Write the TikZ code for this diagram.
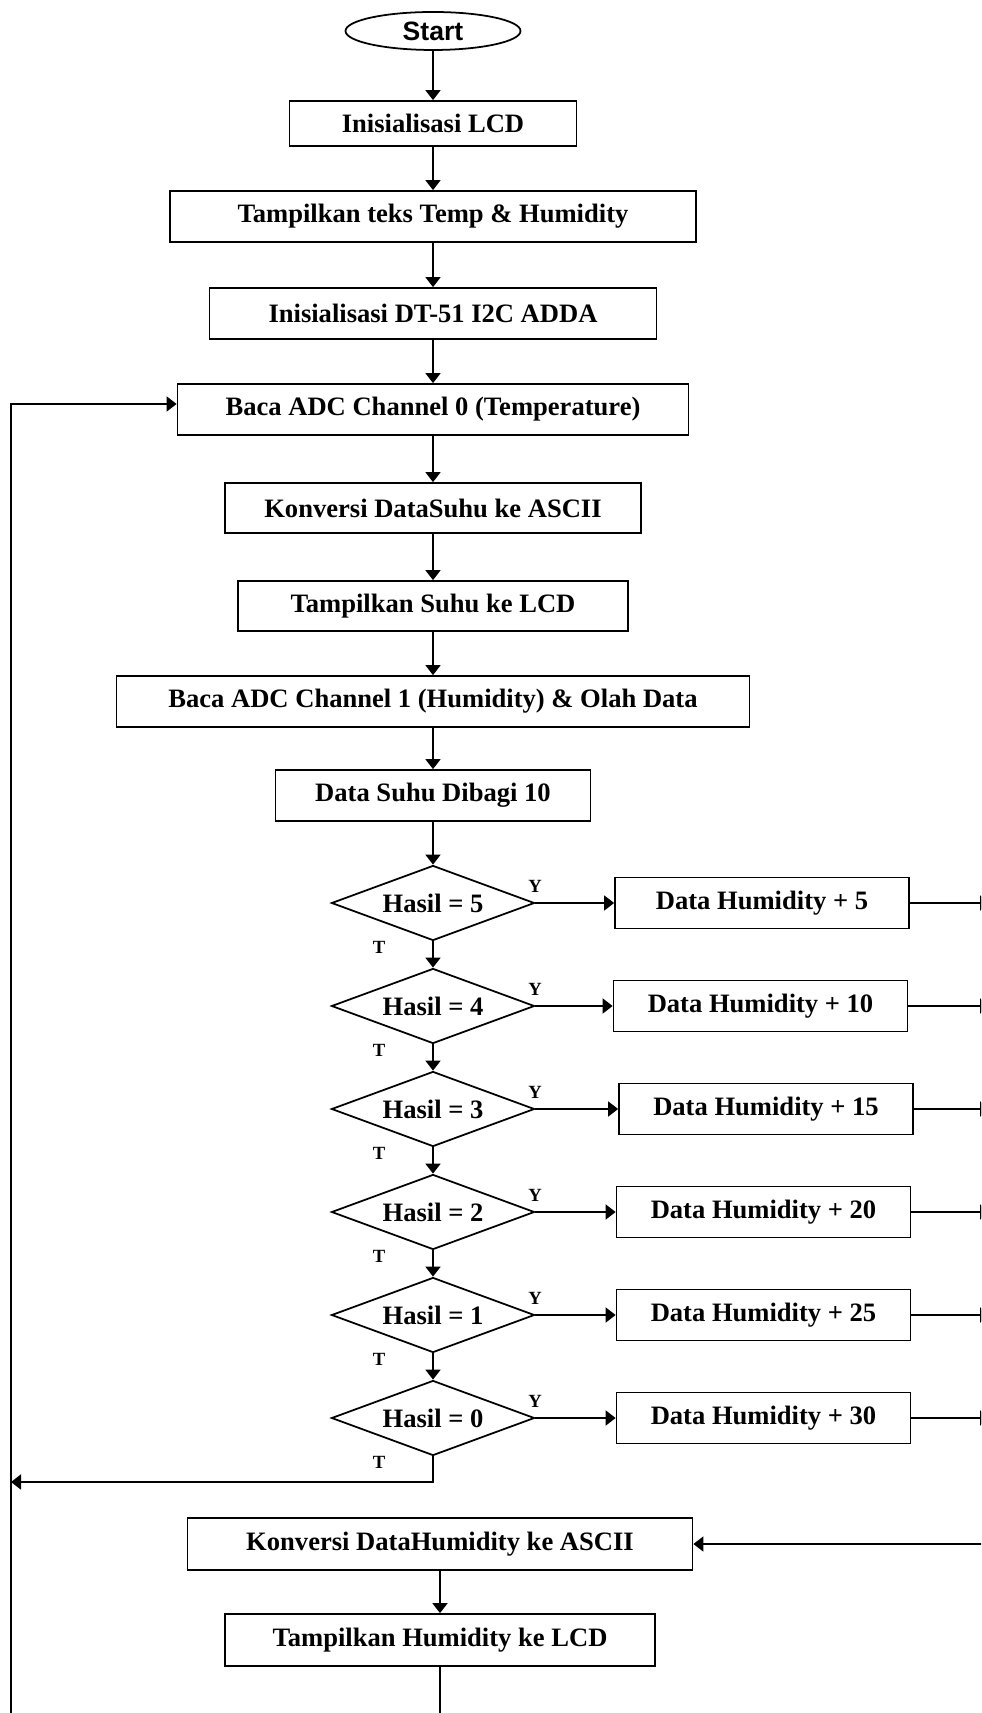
\documentclass[tikz,border=0pt]{standalone}
\usepackage{fontspec}
\setmainfont{Liberation Serif}
\newfontfamily\startfont{Liberation Sans}
\usetikzlibrary{shapes.geometric, arrows.meta}
\tikzset{
  flow box/.style={
    draw,
    rectangle,
    inner sep=0pt,
    minimum height=5.1mm,
    font=\fontsize{7.56pt}{9pt}\selectfont\bfseries,
  },
  flow start/.style={
    draw,
    ellipse,
    inner sep=0pt,
    minimum width=17.5mm,
    minimum height=3.8mm,
    font=\startfont\fontsize{7.56pt}{9pt}\selectfont\bfseries,
  },
  flow decision/.style={
    draw,
    diamond,
    aspect=2.7,
    inner sep=0pt,
    minimum width=20.3mm,
    minimum height=7.5mm,
    font=\fontsize{7.56pt}{9pt}\selectfont\bfseries,
  },
  flow label/.style={
    inner sep=0pt,
    font=\fontsize{5.3pt}{6pt}\selectfont\bfseries,
  },
  flow arrow/.style={
    -{Triangle[length=1.0mm, width=1.5mm]},
  },
}

\begin{document}
\begin{tikzpicture}[line width=0.5pt]
        \fill[white] (0,0) rectangle (98.1mm,-171.3mm);
        \path[use as bounding box, clip] (0,0) rectangle (98.1mm,-171.3mm);

        \node[flow start] (start) at (43.3mm,-03.10mm) {Start};
        \node[flow box, minimum width=28.7mm, minimum height=4.5mm] (lcd) at (43.3mm,-12.35mm) {Inisialisasi LCD};
        \node[flow box, minimum width=52.6mm] (teks) at (43.3mm,-21.65mm) {Tampilkan teks Temp \& Humidity};
        \node[flow box, minimum width=44.7mm] (dt51) at (43.3mm,-31.35mm) {Inisialisasi DT-51 I2C ADDA};
        \node[flow box, minimum width=51.1mm] (adc0) at (43.3mm,-40.95mm) {Baca ADC Channel 0 (Temperature)};
        \node[flow box, minimum width=41.6mm, minimum height=5.0mm] (ksuhu) at (43.3mm,-50.80mm) {Konversi DataSuhu ke ASCII};
        \node[flow box, minimum width=39.0mm, minimum height=5.0mm] (tsuhu) at (43.3mm,-60.60mm) {Tampilkan Suhu ke LCD};
        \node[flow box, minimum width=63.3mm] (adc1) at (43.3mm,-70.15mm) {Baca ADC Channel 1 (Humidity) \& Olah Data};
        \node[flow box, minimum width=31.5mm] (bagi) at (43.3mm,-79.55mm) {Data Suhu Dibagi 10};

        \node[flow decision] (d5) at (43.3mm,-090.3mm) {Hasil = 5};
        \node[flow decision] (d4) at (43.3mm,-100.6mm) {Hasil = 4};
        \node[flow decision] (d3) at (43.3mm,-110.9mm) {Hasil = 3};
        \node[flow decision] (d2) at (43.3mm,-121.2mm) {Hasil = 2};
        \node[flow decision] (d1) at (43.3mm,-131.5mm) {Hasil = 1};
        \node[flow decision] (d0) at (43.3mm,-141.8mm) {Hasil = 0};

        \node[flow box, minimum width=29.4mm] (h5) at (76.20mm,-090.3mm) {Data Humidity + 5};
        \node[flow box, minimum width=29.4mm] (h4) at (76.05mm,-100.6mm) {Data Humidity + 10};
        \node[flow box, minimum width=29.4mm] (h3) at (76.60mm,-110.9mm) {Data Humidity + 15};
        \node[flow box, minimum width=29.4mm] (h2) at (76.35mm,-121.2mm) {Data Humidity + 20};
        \node[flow box, minimum width=29.4mm] (h1) at (76.35mm,-131.5mm) {Data Humidity + 25};
        \node[flow box, minimum width=29.4mm] (h0) at (76.35mm,-141.8mm) {Data Humidity + 30};

        \node[flow label] (y5) at (53.5mm,-088.6mm) {Y};
        \node[flow label] (y4) at (53.5mm,-098.9mm) {Y};
        \node[flow label] (y3) at (53.5mm,-109.2mm) {Y};
        \node[flow label] (y2) at (53.5mm,-119.5mm) {Y};
        \node[flow label] (y1) at (53.5mm,-129.8mm) {Y};
        \node[flow label] (y0) at (53.5mm,-140.1mm) {Y};
        \node[flow label] (t5) at (37.9mm,-094.7mm) {T};
        \node[flow label] (t4) at (37.9mm,-105.0mm) {T};
        \node[flow label] (t3) at (37.9mm,-115.3mm) {T};
        \node[flow label] (t2) at (37.9mm,-125.6mm) {T};
        \node[flow label] (t1) at (37.9mm,-135.9mm) {T};
        \node[flow label] (t0) at (37.9mm,-146.2mm) {T};

        \node[flow box, minimum width=50.5mm, minimum height=5.2mm] (khum) at (44.0mm,-154.4mm) {Konversi DataHumidity ke ASCII};
        \node[flow box, minimum width=43.0mm, minimum height=5.2mm] (thum) at (44.0mm,-164.0mm) {Tampilkan Humidity ke LCD};

        \coordinate (r5) at (99.0mm,-090.3mm);
        \coordinate (r4) at (99.0mm,-100.6mm);
        \coordinate (r3) at (99.0mm,-110.9mm);
        \coordinate (r2) at (99.0mm,-121.2mm);
        \coordinate (r1) at (99.0mm,-131.5mm);
        \coordinate (r0) at (99.0mm,-141.8mm);
        \coordinate (rin) at (99.5mm,-154.4mm);
        \coordinate (tl) at (1.1mm,-148.2mm);
        \coordinate (lt) at (1.1mm,-40.4mm);
        \coordinate (lb) at (1.1mm,-175.0mm);

        \draw[flow arrow] (start) -- (lcd);
        \draw[flow arrow] (lcd) -- (teks);
        \draw[flow arrow] (teks) -- (dt51);
        \draw[flow arrow] (dt51) -- (adc0);
        \draw[flow arrow] (adc0) -- (ksuhu);
        \draw[flow arrow] (ksuhu) -- (tsuhu);
        \draw[flow arrow] (tsuhu) -- (adc1);
        \draw[flow arrow] (adc1) -- (bagi);
        \draw[flow arrow] (bagi) -- (d5);
        \draw[flow arrow] (d5) -- (d4);
        \draw[flow arrow] (d4) -- (d3);
        \draw[flow arrow] (d3) -- (d2);
        \draw[flow arrow] (d2) -- (d1);
        \draw[flow arrow] (d1) -- (d0);

        \draw[flow arrow] (d5) -- (h5);
        \draw[flow arrow] (d4) -- (h4);
        \draw[flow arrow] (d3) -- (h3);
        \draw[flow arrow] (d2) -- (h2);
        \draw[flow arrow] (d1) -- (h1);
        \draw[flow arrow] (d0) -- (h0);

        \draw[flow arrow] (h5) -- (r5);
        \draw[flow arrow] (h4) -- (r4);
        \draw[flow arrow] (h3) -- (r3);
        \draw[flow arrow] (h2) -- (r2);
        \draw[flow arrow] (h1) -- (r1);
        \draw[flow arrow] (h0) -- (r0);

        \draw[flow arrow] (rin) -- (khum);
        \draw[flow arrow] (khum) -- (thum);
        \draw[flow arrow] (d0) |- (tl);
        \draw[flow arrow] (thum) |- (lb) -- (lt) -- (lt -| adc0.west);
      \end{tikzpicture}
\end{document}
